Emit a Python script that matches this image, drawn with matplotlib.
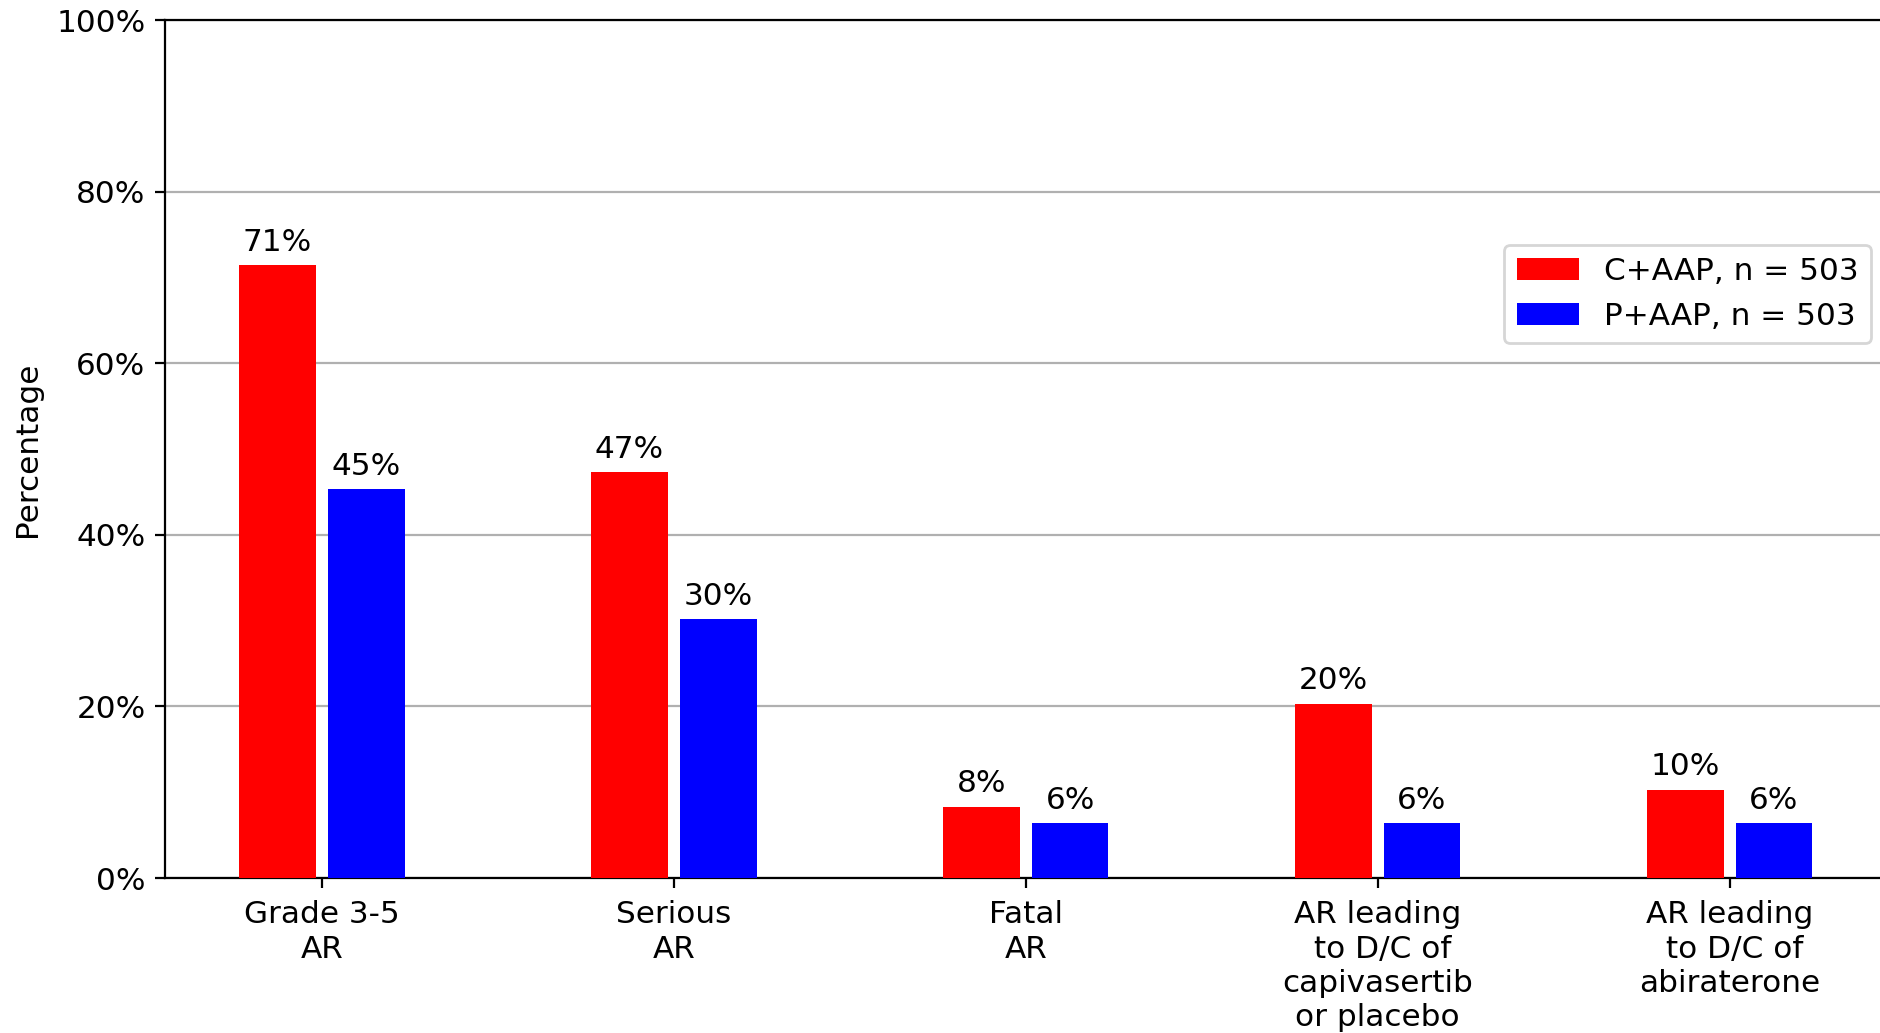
import matplotlib
matplotlib.use("Agg")
import matplotlib.pyplot as plt
import numpy as np
from matplotlib.ticker import PercentFormatter

categories = ["Grade 3-5\nAR", "Serious\nAR", "Fatal\nAR",
              "AR leading\n to D/C of\ncapivasertib\nor placebo",
              "AR leading\n to D/C of\nabiraterone"]
c_aap = [71.4, 47.3, 8.3, 20.3, 10.3]
p_aap = [45.3, 30.2, 6.4, 6.4, 6.4]
series_labels = ["C+AAP, n = 503", "P+AAP, n = 503"]
yticks = [0, 20, 40, 60, 80, 100]

plt.rcParams["font.family"] = "DejaVu Sans"
plt.rcParams["font.size"] = 11.2

fig = plt.figure(figsize=(9.4, 5.165), dpi=200)
ax = fig.add_axes([165/1880, 155/1033, (1888-165)/1880, 858/1033])

x = np.arange(len(categories))
w = 0.218
b1 = ax.bar(x - 0.126, c_aap, w, color="#ff0000", label=series_labels[0], zorder=3)
b2 = ax.bar(x + 0.126, p_aap, w, color="#0000ff", label=series_labels[1], zorder=3)
ax.bar_label(b1, fmt="%.0f%%", padding=3)
ax.bar_label(b2, fmt="%.0f%%", padding=3)

ax.set_xlim(-0.446, 4.45)
ax.set_ylim(0, 100)
ax.set_yticks(yticks)
ax.yaxis.set_major_formatter(PercentFormatter(decimals=0))
ax.set_xticks(x)
ax.set_xticklabels(categories, linespacing=1.23)
ax.tick_params(axis="x", pad=4.5)
ax.set_ylabel("Percentage", labelpad=5)
ax.yaxis.grid(True, color="#b0b0b0", linewidth=0.8, zorder=0)
ax.set_axisbelow(True)

ax.legend(loc="upper right", bbox_to_anchor=(0.99, 0.738), borderaxespad=0)

fig.savefig("out.png", dpi=200)
